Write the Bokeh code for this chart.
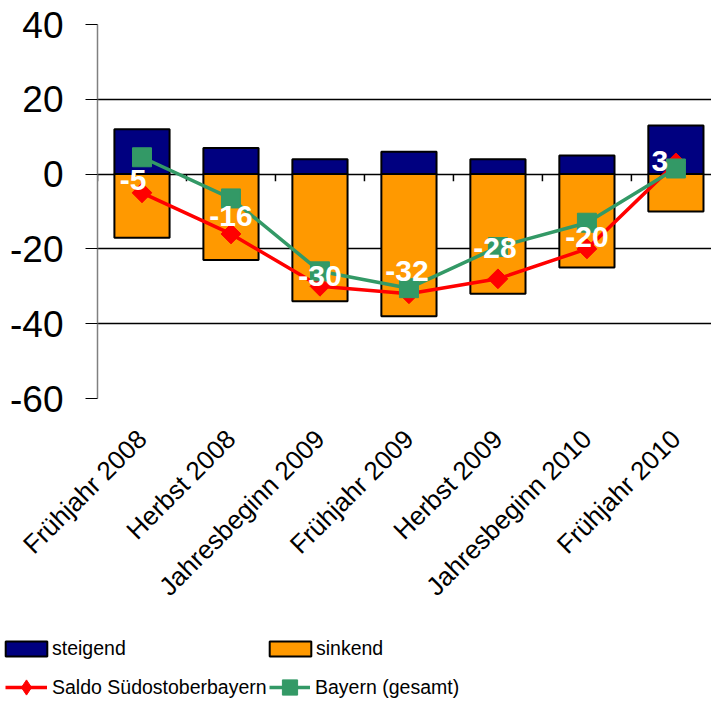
import math
from bokeh.plotting import figure
from bokeh.models import (Range1d, FixedTicker, Legend, LegendItem, ColumnDataSource)
from bokeh.core.properties import value
from bokeh.embed import file_html
from bokeh.resources import INLINE

# ---- data ----
categories = ["Frühjahr 2008", "Herbst 2008", "Jahresbeginn 2009", "Frühjahr 2009",
              "Herbst 2009", "Jahresbeginn 2010", "Frühjahr 2010"]
steigend = [12, 7, 4, 6, 4, 5, 13]
sinkend = [-17, -23, -34, -38, -32, -25, -10]
saldo = [-5, -16, -30, -32, -28, -20, 3]
bayern = [4.5, -6.5, -26, -30.5, -19.5, -13, 1.5]
y_ticks = [-60, -40, -20, 0, 20, 40]

# label nudges (screen px), styling only
lab_dx = [-9, 0, 0, -2, -3, 0, -16]
lab_dy = [-13, -18, -10, -23, -31, -12, -2]

FONT = "Liberation Sans"
xs = [i + 0.5 for i in range(len(categories))]

p = figure(width=711, height=620, output_backend="svg", toolbar_location=None,
           x_range=Range1d(0, 6.9), y_range=Range1d(-60, 40))
p.min_border_left = 97
p.min_border_right = 0
p.min_border_top = 24
p.min_border_bottom = 222
p.outline_line_color = None

# grid
p.xgrid.grid_line_color = None
p.ygrid.grid_line_color = "black"
p.ygrid.grid_line_width = 1.5
p.ygrid.ticker = FixedTicker(ticks=y_ticks)

# y axis
p.yaxis.ticker = FixedTicker(ticks=y_ticks)
p.yaxis.major_label_overrides = {t: str(t) for t in y_ticks}
p.yaxis.axis_line_color = "#808080"
p.yaxis.axis_line_width = 1.5
p.yaxis.major_tick_line_color = "black"
p.yaxis.major_tick_out = 12
p.yaxis.major_tick_in = 0
p.yaxis.minor_tick_line_color = None
p.yaxis.major_label_standoff = 22
p.yaxis.major_label_text_font = FONT
p.yaxis.major_label_text_font_size = "37px"
p.yaxis.major_label_text_color = "black"

# x axis
p.xaxis.ticker = FixedTicker(ticks=xs)
p.xaxis.major_label_overrides = {x: c for x, c in zip(xs, categories)}
p.xaxis.major_label_orientation = math.pi / 4
p.xaxis.axis_line_color = None
p.xaxis.major_tick_line_color = None
p.xaxis.minor_tick_line_color = None
p.xaxis.major_label_standoff = 30
p.xaxis.major_label_text_font = FONT
p.xaxis.major_label_text_font_size = "26px"
p.xaxis.major_label_text_color = "black"

src = ColumnDataSource(dict(x=xs, up=steigend, down=sinkend, saldo=saldo, bayern=bayern,
                            lab=[str(v) for v in saldo], dx=lab_dx, dy=lab_dy))

r_up = p.vbar(x="x", top="up", bottom=0, width=0.62, source=src,
              fill_color="#000080", line_color="black", line_width=2)
r_down = p.vbar(x="x", top=0, bottom="down", width=0.62, source=src,
                fill_color="#FF9900", line_color="black", line_width=2)

# category ticks on zero line
bounds = list(range(0, len(categories) + 1))
p.segment(x0=bounds, y0=[0] * len(bounds), x1=bounds, y1=[-1.9] * len(bounds),
          line_color="black", line_width=1.5)

r_sl = p.line("x", "saldo", source=src, line_color="#FF0000", line_width=3.5)
r_sm = p.scatter("x", "saldo", source=src, marker="square", angle=math.pi / 4, size=14,
                 fill_color="#FF0000", line_color="#FF0000")
r_bl = p.line("x", "bayern", source=src, line_color="#339966", line_width=3.5)
r_bm = p.scatter("x", "bayern", source=src, marker="square", size=19,
                 fill_color="#339966", line_color="#339966")

p.text("x", "saldo", text="lab", source=src, x_offset="dx", y_offset="dy",
       text_color="white", text_font=value(FONT), text_font_style="bold",
       text_font_size="30px", text_align="center", text_baseline="middle")

# ---- legend strip (separate root) ----
q = figure(width=711, height=86, output_backend="svg", toolbar_location=None,
           x_range=Range1d(0, 1), y_range=Range1d(0, 1),
           x_axis_location=None, y_axis_location=None)
q.min_border = 0
q.outline_line_color = None
q.grid.grid_line_color = None

# hidden proxy renderers so the legend has glyph styles to draw from
ox, oy, ob = [0.5], [0.5], [0.4]
l_up = q.vbar(x=ox, top=oy, bottom=ob, width=0.1, fill_color="#000080", line_color="black", line_width=2)
l_down = q.vbar(x=ox, top=oy, bottom=ob, width=0.1, fill_color="#FF9900", line_color="black", line_width=2)
l_sl = q.line(x=ox, y=oy, line_color="#FF0000", line_width=3.5)
l_sm = q.scatter(x=ox, y=oy, marker="diamond", size=14,
                 fill_color="#FF0000", line_color="#FF0000")
l_bl = q.line(x=ox, y=oy, line_color="#339966", line_width=3.5)
l_bm = q.scatter(x=ox, y=oy, marker="square", size=19,
                 fill_color="#339966", line_color="#339966")
for r in (l_up, l_down, l_sl, l_sm, l_bl, l_bm):
    r.visible = False

def mk_legend(item, vx, vy, gw, gh, standoff):
    lg = Legend(items=[item], location=(vx, vy), orientation="horizontal",
                glyph_width=gw, glyph_height=gh, label_height=gh, label_standoff=standoff,
                label_text_font=FONT, label_text_font_size="19.5px", label_text_color="black",
                padding=0, margin=0, spacing=0, border_line_color=None,
                background_fill_alpha=0, inactive_fill_alpha=0)
    q.add_layout(lg, "center")

mk_legend(LegendItem(label="steigend", renderers=[l_up]), 0, 46, 52, 19, 0)
mk_legend(LegendItem(label="sinkend", renderers=[l_down]), 264, 46, 52, 19, 0)
mk_legend(LegendItem(label="Saldo Südostoberbayern", renderers=[l_sl, l_sm]), 5, 0, 42, 38, 5)
mk_legend(LegendItem(label="Bayern (gesamt)", renderers=[l_bl, l_bm]), 269, 0, 41, 38, 5)

open("out.html", "w").write(file_html([p, q], INLINE))
